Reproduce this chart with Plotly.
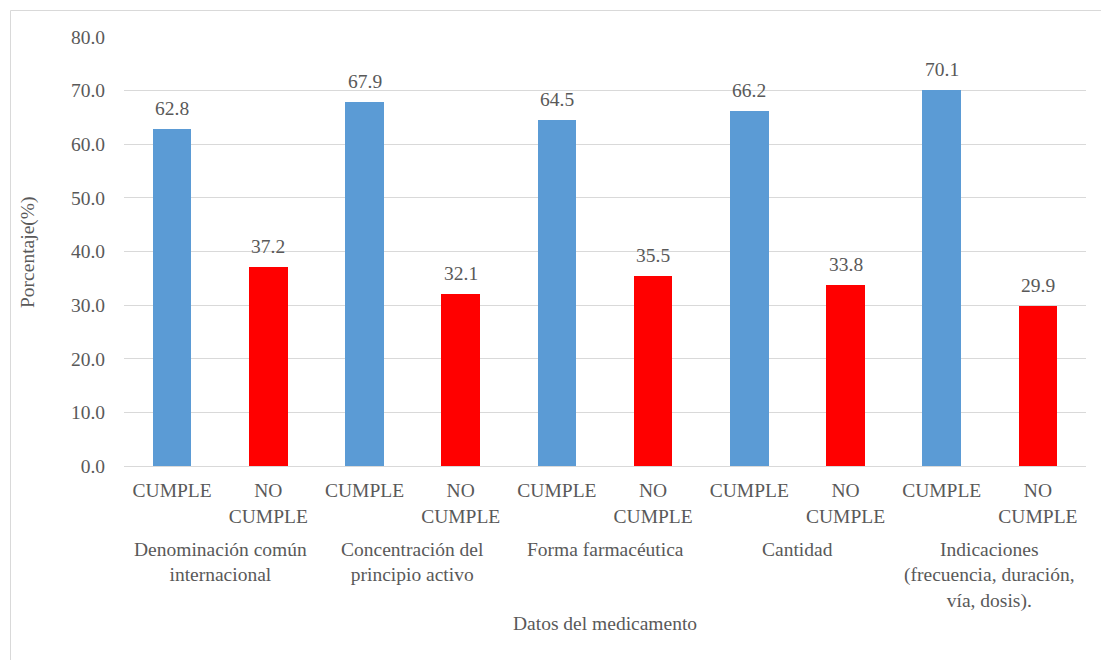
import plotly.graph_objects as go

# Data: share of prescriptions meeting each requirement (%)
groups = [
    "Denominación común<br>internacional",
    "Concentración del<br>principio activo",
    "Forma farmacéutica",
    "Cantidad",
    "Indicaciones<br>(frecuencia, duración,<br>vía, dosis).",
]
statuses = ["CUMPLE", "NO<br>CUMPLE"]
cumple = [62.8, 67.9, 64.5, 66.2, 70.1]
no_cumple = [37.2, 32.1, 35.5, 33.8, 29.9]

y_ticks = [0, 10, 20, 30, 40, 50, 60, 70, 80]

BLUE = "#5b9bd5"
RED = "#ff0000"
TEXT = "#595959"
GRID = "#d9d9d9"
FONT = "Liberation Serif"
FS = 19.5

values = []
colors = []
tick_text = []
for c, n in zip(cumple, no_cumple):
    values += [c, n]
    colors += [BLUE, RED]
    tick_text += statuses
positions = list(range(len(values)))

fig = go.Figure()
fig.add_trace(go.Bar(
    x=positions, y=values, width=0.4,
    marker=dict(color=colors, line=dict(width=0)),
    hoverinfo="skip",
))

# value labels above bars
for x, v in zip(positions, values):
    fig.add_annotation(
        x=x, y=v, text=f"{v:.1f}", showarrow=False,
        yanchor="bottom", yshift=8,
        font=dict(family=FONT, size=FS, color=TEXT),
    )

W, H = 1101, 660
L, R, T, B = 124, 15, 37, 194
pw, ph = W - L - R, H - T - B

def px(xp):
    return (xp - L) / pw

def py(yp):
    return (H - B - yp) / ph

# group labels, centred under each pair of bars
for i, g in enumerate(groups):
    fig.add_annotation(
        x=2 * i + 0.5, xref="x", y=py(537), yref="paper",
        text=g, showarrow=False, yanchor="top", xanchor="center",
        align="center",
        font=dict(family=FONT, size=FS, color=TEXT),
    )

fig.add_annotation(
    x=0.5, xref="paper", y=py(623), yref="paper",
    text="Datos del medicamento", showarrow=False,
    xanchor="center", yanchor="middle",
    font=dict(family=FONT, size=FS, color=TEXT),
)
fig.add_annotation(
    x=px(28), xref="paper", y=py(252), yref="paper",
    text="Porcentaje(%)", showarrow=False, textangle=-90,
    xanchor="center", yanchor="middle",
    font=dict(family=FONT, size=FS, color=TEXT),
)

# outer chart border
fig.add_shape(
    type="rect", xref="paper", yref="paper",
    x0=px(10.5), x1=1.5, y0=-2, y1=py(10.5),
    line=dict(color=GRID, width=1), layer="below",
)

fig.update_layout(
    width=W, height=H,
    margin=dict(l=L, r=R, t=T, b=B),
    paper_bgcolor="white", plot_bgcolor="white",
    showlegend=False,
    bargap=0,
    font=dict(family=FONT, size=FS, color=TEXT),
)
fig.update_xaxes(
    range=[-0.5, len(values) - 0.5],
    tickvals=positions, ticktext=tick_text,
    ticks="outside", ticklen=7, tickcolor="rgba(0,0,0,0)",
    showgrid=False, zeroline=False,
    showline=True, linecolor=GRID, linewidth=1,
    tickfont=dict(family=FONT, size=FS, color=TEXT),
    fixedrange=True,
)
fig.update_yaxes(
    range=[0, 80], tickvals=y_ticks, tickformat=".1f",
    ticks="outside", ticklen=14, tickcolor="rgba(0,0,0,0)",
    showgrid=True, gridcolor=GRID, gridwidth=1,
    zeroline=False, showline=False,
    tickfont=dict(family=FONT, size=FS, color=TEXT),
    fixedrange=True,
)

fig.write_html("out.html", config={"displayModeBar": False})
